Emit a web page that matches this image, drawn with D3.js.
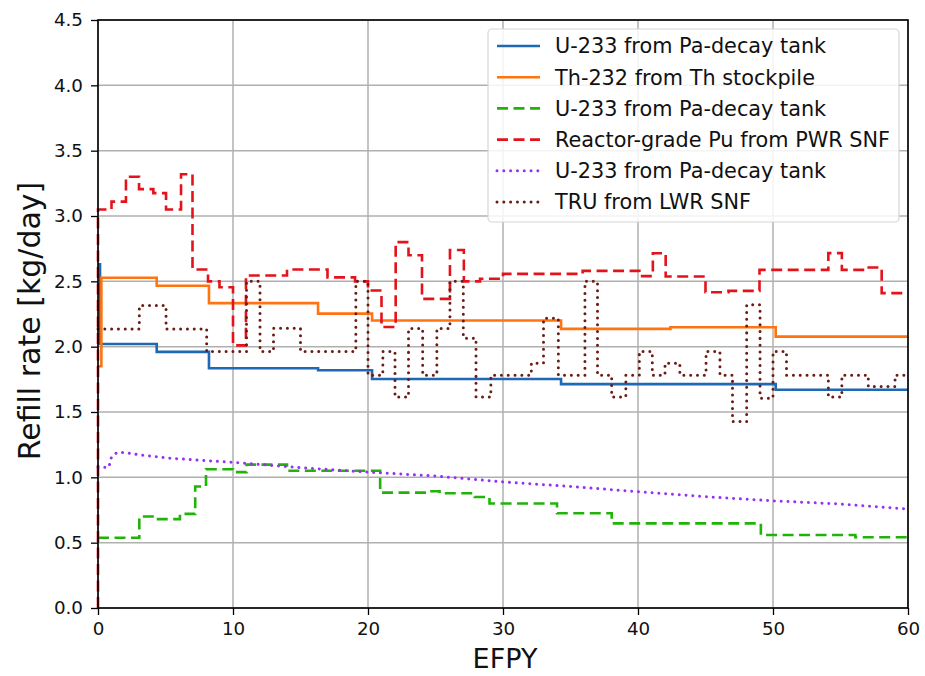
<!DOCTYPE html>
<html>
<head>
<meta charset="utf-8">
<script src="https://cdn.jsdelivr.net/npm/d3@7"></script>
<style>
  html, body { margin: 0; padding: 0; background: #fff; }
  svg { display: block; font-family: "DejaVu Sans", sans-serif; }
</style>
</head>
<body>
<svg id="chart" width="925" height="676"></svg>
<script>
// Refill rates (kg/day) versus effective full-power years.
// Step series: value holds from each x until the next x.

// U-233 from Pa-decay tank (solid blue)
const u233aX = [0, 0.15, 4.35, 8.22, 16.3, 20.3, 34.3, 50.2, 60];
const u233aY = [2.63, 2.02, 1.96, 1.835, 1.82, 1.753, 1.713, 1.67, 1.67];

// Th-232 from Th stockpile (solid orange)
const th232X = [0, 0.25, 4.35, 8.22, 16.3, 20.3, 34.3, 42.4, 50.2, 60];
const th232Y = [1.85, 2.527, 2.466, 2.333, 2.253, 2.2, 2.136, 2.149, 2.077, 2.077];

// U-233 from Pa-decay tank (dashed green)
const u233bX = [0, 3.06, 4.3, 6.07, 7.2, 8.0, 10.0, 11.0, 14.0, 20.9, 24.3, 25.3, 27.9, 29.0, 34.0, 38.05, 49.1, 56.1, 60];
const u233bY = [0.538, 0.70, 0.68, 0.72, 0.93, 1.062, 1.04, 1.097, 1.05, 0.883, 0.893, 0.878, 0.85, 0.80, 0.725, 0.648, 0.559, 0.541, 0.541];

// Reactor-grade Pu from PWR SNF (dashed red)
const puX = [0, 0, 1.0, 2.07, 3.04, 4.1, 5.04, 6.15, 7.0, 8.15, 9.0, 10.0, 10.96, 14.0, 17.0, 19.04, 20.0, 21.0, 22.05, 23.0, 24.0, 26.07, 27.1, 28.3, 30.0, 35.9, 40.1, 41.1, 42.05, 45.0, 46.7, 49.0, 54.1, 55.1, 56.9, 58.05, 60];
const puY = [0, 3.05, 3.11, 3.30, 3.206, 3.175, 3.05, 3.32, 2.59, 2.50, 2.455, 2.01, 2.545, 2.59, 2.53, 2.50, 2.43, 2.15, 2.80, 2.70, 2.366, 2.74, 2.50, 2.52, 2.557, 2.58, 2.54, 2.715, 2.537, 2.417, 2.427, 2.588, 2.716, 2.588, 2.606, 2.41, 2.41];

// U-233 from Pa-decay tank (dotted purple, continuous)
const u233cX = [0, 0.8, 1.0, 1.4, 2.0, 3.1, 5.3, 7.6, 10, 15, 20, 25, 30, 35, 40, 45, 50, 55, 60];
const u233cY = [1.077, 1.077, 1.155, 1.19, 1.19, 1.172, 1.147, 1.13, 1.115, 1.074, 1.04, 1.01, 0.965, 0.93, 0.89, 0.852, 0.82, 0.796, 0.757];

// TRU from LWR SNF (dotted brown)
const truX = [0, 3.06, 5.04, 8.05, 11.0, 12.0, 13.0, 15.0, 19.1, 20.0, 21.1, 22.0, 23.0, 24.05, 25.1, 26.07, 27.06, 28.0, 29.1, 32.1, 33.0, 34.1, 36.07, 37.0, 38.05, 39.1, 40.1, 41.06, 42.0, 43.1, 45.04, 46.07, 47.0, 48.05, 49.04, 50.0, 51.0, 54.1, 55.1, 57.06, 59.04, 60];
const truY = [2.136, 2.315, 2.136, 1.963, 2.50, 1.963, 2.14, 1.963, 2.50, 1.782, 1.963, 1.614, 2.139, 1.782, 2.139, 2.50, 2.065, 1.614, 1.782, 1.874, 2.218, 1.782, 2.50, 1.782, 1.614, 1.782, 1.963, 1.782, 1.874, 1.782, 1.963, 1.782, 1.427, 2.32, 1.606, 1.963, 1.782, 1.614, 1.782, 1.695, 1.782, 1.782];

const xTicks = [0, 10, 20, 30, 40, 50, 60];
const yTicks = [0.0, 0.5, 1.0, 1.5, 2.0, 2.5, 3.0, 3.5, 4.0, 4.5];

const seriesLabels = [
  "U-233 from Pa-decay tank",
  "Th-232 from Th stockpile",
  "U-233 from Pa-decay tank",
  "Reactor-grade Pu from PWR SNF",
  "U-233 from Pa-decay tank",
  "TRU from LWR SNF"
];

const svg = d3.select("#chart");
const margin = { left: 98, right: 17, top: 20, bottom: 68 };
const W = 925, H = 676;
const x = d3.scaleLinear().domain([0, 60]).range([margin.left, W - margin.right]);
const y = d3.scaleLinear().domain([0, 4.5]).range([H - margin.bottom, margin.top]);

// grid
const grid = svg.append("g");
grid.selectAll("line.gx").data(xTicks).join("line")
  .attr("x1", d => x(d)).attr("x2", d => x(d))
  .attr("y1", y(0)).attr("y2", y(4.5))
  .attr("stroke", "#b0b0b0").attr("stroke-width", 1.5);
grid.selectAll("line.gy").data(yTicks).join("line")
  .attr("x1", x(0)).attr("x2", x(60))
  .attr("y1", d => y(d)).attr("y2", d => y(d))
  .attr("stroke", "#b0b0b0").attr("stroke-width", 1.5);

const zip = (xs, ys) => xs.map((v, i) => [v, ys[i]]);
const stepLine = d3.line().x(d => x(d[0])).y(d => y(d[1])).curve(d3.curveStepAfter);
const plainLine = d3.line().x(d => x(d[0])).y(d => y(d[1]));

const styles = [
  { color: "#1f68b4", dash: null, width: 2.6 },
  { color: "#ff7410", dash: null, width: 2.6 },
  { color: "#22b30a", dash: "11 5.5", width: 2.6 },
  { color: "#e3121b", dash: "11 5.5", width: 2.6 },
  { color: "#9630f2", dash: "0.01 6.8", width: 3.0, round: true },
  { color: "#6a1c14", dash: "0.01 6.8", width: 3.0, round: true }
];

const plotData = [
  { pts: zip(u233aX, u233aY), gen: stepLine },
  { pts: zip(th232X, th232Y), gen: stepLine },
  { pts: zip(u233bX, u233bY), gen: stepLine },
  { pts: zip(puX, puY), gen: stepLine },
  { pts: zip(u233cX, u233cY), gen: plainLine },
  { pts: zip(truX, truY), gen: stepLine }
];

svg.append("defs").append("clipPath").attr("id", "plotClip")
  .append("rect").attr("x", x(0) - 2).attr("y", y(4.5))
  .attr("width", x(60) - x(0) + 4).attr("height", y(0) - y(4.5) + 2);

const lines = svg.append("g").attr("clip-path", "url(#plotClip)");
plotData.forEach((s, i) => {
  const st = styles[i];
  lines.append("path")
    .attr("d", s.gen(s.pts))
    .attr("fill", "none")
    .attr("stroke", st.color)
    .attr("stroke-width", st.width)
    .attr("stroke-dasharray", st.dash)
    .attr("stroke-linecap", st.round ? "round" : "butt")
    .attr("stroke-linejoin", "miter");
});

// axes
const xAxis = d3.axisBottom(x).tickValues(xTicks).tickSize(7).tickPadding(7).tickFormat(d3.format("d"));
const yAxis = d3.axisLeft(y).tickValues(yTicks).tickSize(7).tickPadding(8).tickFormat(d3.format(".1f"));
const gx = svg.append("g").attr("transform", `translate(0,${y(0)})`).call(xAxis);
const gy = svg.append("g").attr("transform", `translate(${x(0)},0)`).call(yAxis);
[gx, gy].forEach(g => {
  g.select(".domain").remove();
  g.selectAll(".tick line").attr("stroke", "#000").attr("stroke-width", 1.3);
  g.selectAll(".tick text").attr("fill", "#111").style("font-size", "18.3px").style("font-family", "DejaVu Sans");
});

// frame
svg.append("rect")
  .attr("x", x(0)).attr("y", y(4.5))
  .attr("width", x(60) - x(0)).attr("height", y(0) - y(4.5))
  .attr("fill", "none").attr("stroke", "#000").attr("stroke-width", 1.6);

// axis titles
svg.append("text")
  .attr("x", (x(0) + x(60)) / 2 + 2).attr("y", 668)
  .attr("text-anchor", "middle")
  .style("font-size", "27px").attr("fill", "#111")
  .text("EFPY");
svg.append("text")
  .attr("transform", `translate(40,${(y(0) + y(4.5)) / 2 + 7}) rotate(-90)`)
  .attr("text-anchor", "middle")
  .style("font-size", "30px").attr("fill", "#111")
  .text("Refill rate [kg/day]");

// legend
const leg = svg.append("g");
leg.append("rect")
  .attr("x", 488).attr("y", 29).attr("width", 411).attr("height", 193)
  .attr("rx", 4).attr("fill", "#fff").attr("fill-opacity", 0.85)
  .attr("stroke", "#d6d6d6").attr("stroke-width", 1.2);
seriesLabels.forEach((lab, i) => {
  const st = styles[i];
  const ly = 46 + i * 31.2;
  leg.append("line")
    .attr("x1", 497).attr("x2", 540).attr("y1", ly).attr("y2", ly)
    .attr("stroke", st.color).attr("stroke-width", st.width)
    .attr("stroke-dasharray", st.dash)
    .attr("stroke-linecap", st.round ? "round" : "butt");
  leg.append("text")
    .attr("x", 555).attr("y", ly).attr("dy", "0.36em")
    .style("font-size", "20.8px").attr("fill", "#111")
    .text(lab);
});
</script>
</body>
</html>
